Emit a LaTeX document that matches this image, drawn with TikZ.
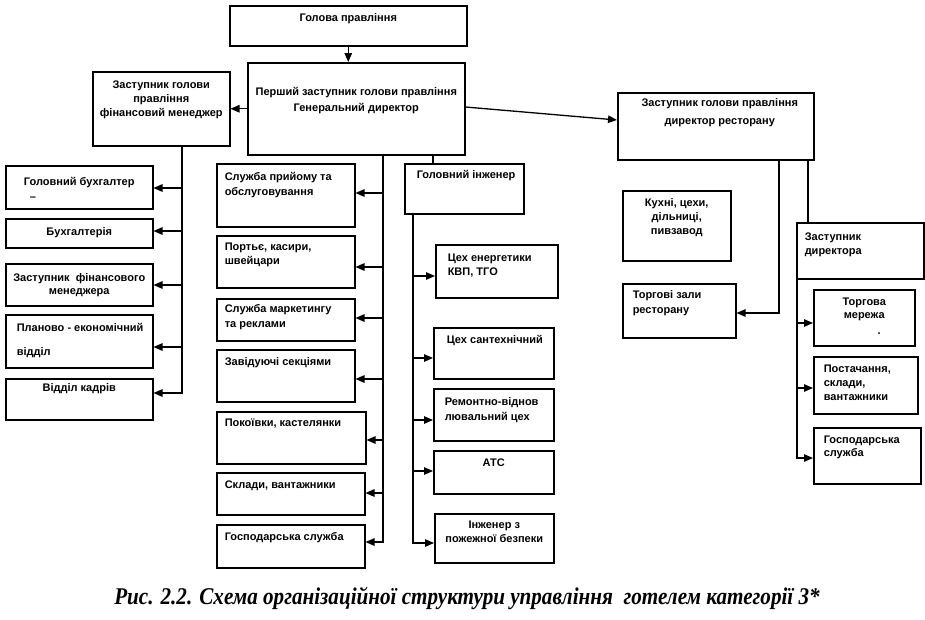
\documentclass[tikz,border=0pt]{standalone}
\usepackage{fontspec}
\setmainfont{Liberation Sans}
\newfontfamily\capfont{Liberation Serif}
\usetikzlibrary{arrows.meta,calc}
\tikzset{
  box/.style={draw, line width=1.5pt, inner sep=0pt, anchor=north west,
    font=\bfseries\fontsize{11}{14.5}\selectfont},
  conn/.style={line width=1.3pt},
  arr/.style={conn, -{Triangle[length=9pt,width=7.5pt]}},
}
\newcommand\bx[7]{\node[box] (#1) at (#2,#3) {\parbox[c][#5pt][t]{#4pt}{\vspace*{#6pt}#7}};}
\newcommand\Lft[1]{\raggedright\leftskip=#1pt\relax}
\begin{document}
\begin{tikzpicture}[x=1pt,y=-1pt]
\useasboundingbox (0,0) rectangle (925,619);
% top
\bx{head}{229}{5}{237}{40}{8}{\centering Голова правління}
\bx{first}{247}{62}{217}{92}{25}{\centering\baselineskip=15.5pt Перший заступник голови правління\\Генеральний директор}
\bx{fin}{92}{71}{137}{74}{9}{\centering\baselineskip=14pt Заступник голови\\правління\\фінансовий менеджер}
% left column
\bx{buh}{5}{165}{147}{43}{12}{{\centering Головний бухгалтер\par}\hspace*{24pt}–}
\bx{buhg}{5}{218}{147}{29}{9}{\centering Бухгалтерія}
\bx{zfm}{5}{263}{147}{42}{10}{\centering\baselineskip=13pt Заступник\ \ фінансового\\менеджера}
\bx{plan}{5}{314}{147}{53}{9}{\Lft{11}Планово - економічний\\[9pt]відділ}
\bx{kadr}{5}{378}{147}{41}{5}{\centering Відділ кадрів}
% middle column
\bx{prm}{216}{163}{138}{63}{9}{\Lft{8}Служба прийому та\\обслуговування}
\bx{port}{216}{235}{138}{52}{7}{\Lft{8}Портьє, касири,\\швейцари}
\bx{mark}{216}{298}{138}{42}{6}{\Lft{8}Служба маркетингу\\та реклами}
\bx{zav}{216}{349}{138}{52}{8}{\Lft{8}Завідуючі секціями}
\bx{pok}{216}{411}{149}{52}{7}{\Lft{8}Покоївки, кастелянки}
\bx{skl}{216}{472}{148}{42}{8}{\Lft{8}Склади, вантажники}
\bx{gosp}{216}{524}{148}{43}{8}{\Lft{8}Господарська служба}
% engineer column
\bx{ing}{404}{163}{119}{50}{7}{\Lft{12}Головний інженер}
\bx{en}{435}{244}{122}{53}{9}{\Lft{12}Цех енергетики\\КВП, ТГО}
\bx{san}{433}{327}{120}{51}{8}{\Lft{13}Цех сантехнічний}
\bx{rem}{433}{388}{120}{52}{9}{\Lft{11}Ремонтно-віднов\\лювальний цех}
\bx{ats}{433}{450}{120}{43}{8}{\centering АТС}
\bx{pzh}{434}{513}{119}{49}{7}{\centering Інженер з\\пожежної безпеки}
% right
\bx{dir}{617}{92}{196}{67}{6}{\centering\baselineskip=17.5pt\hspace*{8pt}Заступник голови правління\\\hspace*{8pt}директор ресторану}
\bx{kuh}{622}{190}{108}{70}{8}{\centering\baselineskip=14pt Кухні, цехи,\\дільниці,\hspace*{12pt}\\пивзавод}
\bx{torg}{622}{283}{113}{54}{7}{\Lft{10}Торгові зали\\ресторану}
\bx{zd}{796}{222}{127}{56}{10}{\Lft{8}Заступник\\директора}
\bx{tm}{813}{289}{101}{56}{8}{\centering\baselineskip=13pt Торгова\\мережа\\[3pt]\hspace*{30pt}.}
\bx{post}{813}{356}{104}{57}{8}{\Lft{10}\baselineskip=14pt Постачання,\\склади,\\вантажники}
\bx{gsr}{813}{427}{107}{56}{8}{\Lft{10}\baselineskip=13pt Господарська\\служба}
% caption
\node[font=\capfont\bfseries\itshape\fontsize{24}{24}\selectfont, xscale=0.88, inner sep=0pt] (cap) at (467,598)
  {Рис. 2.2. Схема організаційної структури управління\ \ готелем категорії 3*};
% connectors: top
\draw[arr] (head.south) -- (head.south |- first.north);
\draw[arr] (first.west) -- (fin.east);
\coordinate (dirA) at ($(dir.north west)+(0,28)$);
\draw[arr] ($(first.north east)+(0,45)$) -- (dirA);
% finance trunk
\coordinate (ft) at ($(fin.south west)+(90,0)$);
\coordinate (buhA) at ($(buh.north east)+(0,23)$);
\coordinate (buhgA) at ($(buhg.north east)+(0,13)$);
\coordinate (zfmA) at ($(zfm.north east)+(0,22)$);
\coordinate (planA) at ($(plan.north east)+(0,33)$);
\coordinate (kadrA) at ($(kadr.north east)+(0,15)$);
\draw[arr] (ft) -- (ft |- kadrA) -- (kadrA);
\foreach \c in {buhA,buhgA,zfmA,planA} \draw[arr] (ft |- \c) -- (\c);
% middle trunk
\coordinate (mt) at ($(first.south west)+(136,0)$);
\coordinate (prmA) at ($(prm.north east)+(0,30)$);
\coordinate (portA) at ($(port.north east)+(0,32)$);
\coordinate (markA) at ($(mark.north east)+(0,20)$);
\coordinate (zavA) at ($(zav.north east)+(0,30)$);
\coordinate (pokA) at ($(pok.north east)+(0,29)$);
\coordinate (sklA) at ($(skl.north east)+(0,21)$);
\coordinate (gospA) at ($(gosp.north east)+(0,18)$);
\draw[arr] (mt) -- (mt |- gospA) -- (gospA);
\foreach \c in {prmA,portA,markA,zavA,pokA,sklA} \draw[arr] (mt |- \c) -- (\c);
% engineer
\coordinate (it) at ($(first.south west)+(186,0)$);
\draw[conn] (it) -- (it |- ing.north);
\coordinate (et) at ($(ing.south west)+(9,0)$);
\coordinate (enA) at ($(en.north west)+(0,32)$);
\coordinate (sanA) at ($(san.north west)+(0,31)$);
\coordinate (remA) at ($(rem.north west)+(0,32)$);
\coordinate (atsA) at ($(ats.north west)+(0,21)$);
\coordinate (pzhA) at ($(pzh.north west)+(0,30)$);
\draw[arr] (et) -- (et |- pzhA) -- (pzhA);
\foreach \c in {enA,sanA,remA,atsA} \draw[arr] (et |- \c) -- (\c);
% director
\coordinate (d1) at ($(dir.south west)+(162,0)$);
\coordinate (d2) at ($(dir.south west)+(191,0)$);
\coordinate (torgA) at ($(torg.north east)+(0,30)$);
\draw[arr] (d1) -- (d1 |- torgA) -- (torgA);
\draw[conn] (d2) -- (d2 |- zd.north);
\coordinate (zt) at ($(zd.south west)+(1,0)$);
\coordinate (tmA) at ($(tm.north west)+(0,34)$);
\coordinate (postA) at ($(post.north west)+(0,32)$);
\coordinate (gsrA) at ($(gsr.north west)+(0,31)$);
\draw[arr] (zt) -- (zt |- gsrA) -- (gsrA);
\foreach \c in {tmA,postA} \draw[arr] (zt |- \c) -- (\c);
\end{tikzpicture}
\end{document}
